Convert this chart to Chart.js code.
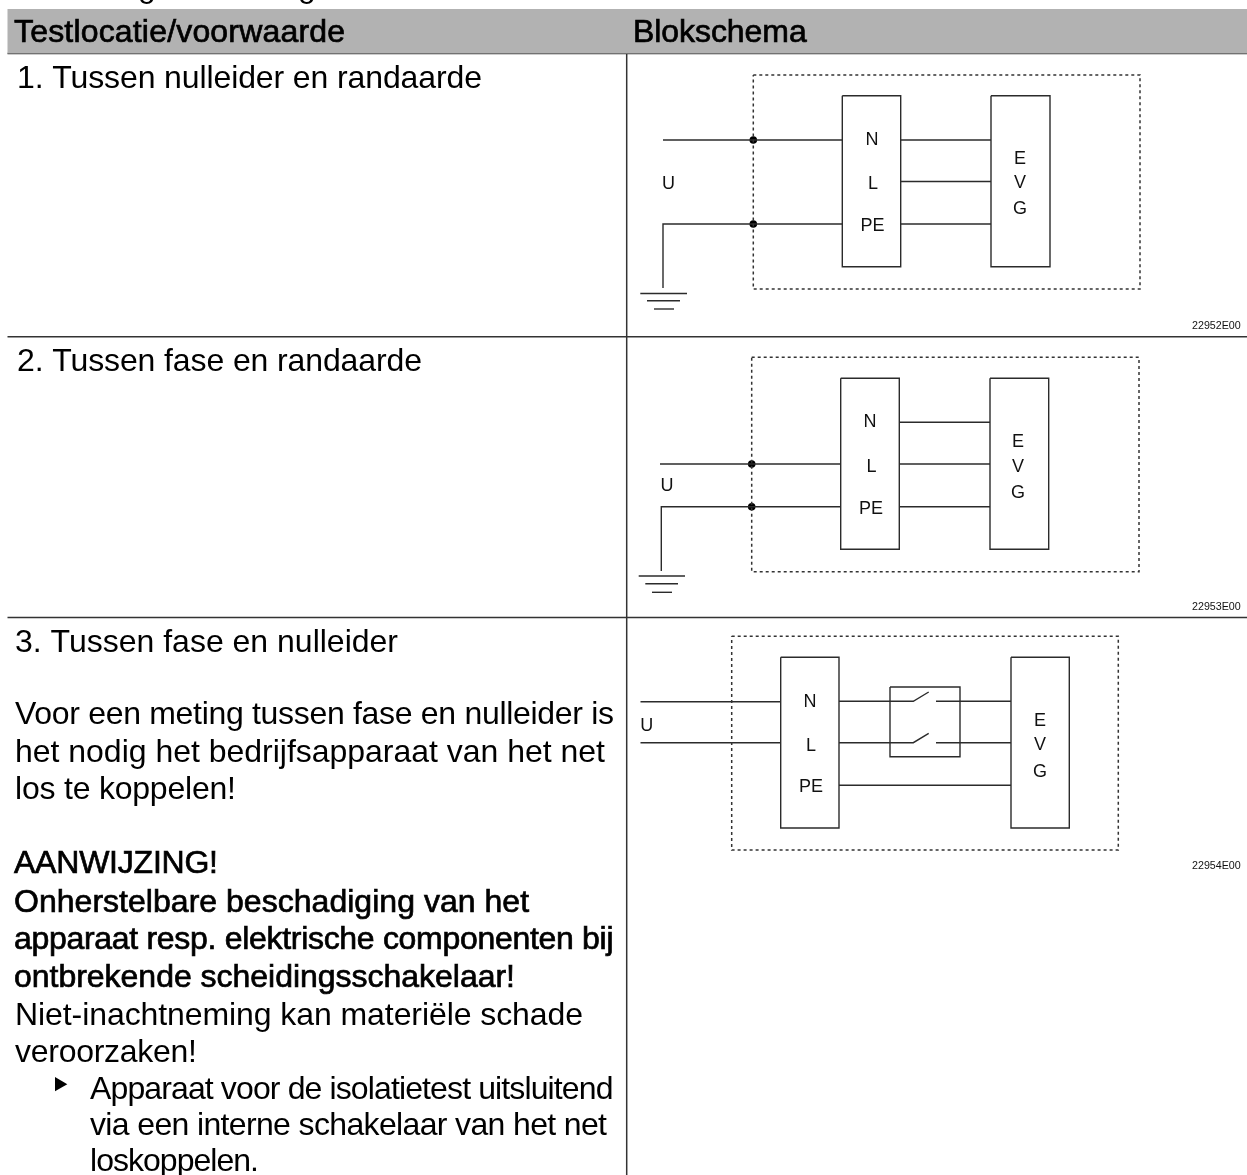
<!DOCTYPE html>
<html>
<head>
<meta charset="utf-8">
<title>Blokschema</title>
<script src="https://cdn.jsdelivr.net/npm/chart.js@4"></script>
<style>
  html, body { margin: 0; padding: 0; background: #fff; overflow: hidden; }
  canvas { display: block; }
</style>
</head>
<body>
<canvas id="schema" width="1247" height="1175"></canvas>
<script>
// table frame, [x1, y1, x2, y2]
const headerBand = [[7.5, 31.2], [1247, 31.2]];
const tableLines = [
  [7.5, 53.5, 1247, 53.5],
  [7.5, 336.7, 1247, 336.7],
  [7.5, 617.5, 1247, 617.5],
  [626.7, 9, 626.7, 1175]
];

// diagram wires as polylines [x, y]
const wires = [
  // 1
  [[663, 140], [842.3, 140]], [[900.7, 140], [991, 140]], [[900.7, 181.5], [991, 181.5]],
  [[663, 288], [663, 224], [842.3, 224]], [[900.7, 224], [991, 224]],
  [[640.3, 293.5], [687, 293.5]], [[647, 300.8], [680, 300.8]], [[654, 309], [674, 309]],
  [[842.3, 95.7], [900.7, 95.7], [900.7, 266.7], [842.3, 266.7], [842.3, 95.7]],
  [[991, 95.7], [1050, 95.7], [1050, 266.7], [991, 266.7], [991, 95.7]],
  // 2
  [[660, 464], [840.7, 464]], [[899.3, 422.3], [990, 422.3]], [[899.3, 464], [990, 464]],
  [[661.3, 571], [661.3, 506.7], [840.7, 506.7]], [[899.3, 506.7], [990, 506.7]],
  [[638.7, 576], [685, 576]], [[645.3, 583.7], [678, 583.7]], [[652, 592.3], [672, 592.3]],
  [[840.7, 378.3], [899.3, 378.3], [899.3, 549.3], [840.7, 549.3], [840.7, 378.3]],
  [[990, 378.3], [1048.7, 378.3], [1048.7, 549.3], [990, 549.3], [990, 378.3]],
  // 3
  [[640.5, 701.7], [780.7, 701.7]], [[640.5, 742.7], [780.7, 742.7]],
  [[839, 701.3], [913.3, 701.3], [928.7, 692]], [[936, 701.3], [1011, 701.3]],
  [[839, 742.7], [913.3, 742.7], [928.7, 733.3]], [[936, 742.7], [1011, 742.7]],
  [[839, 785.3], [1011, 785.3]],
  [[890, 687], [960, 687], [960, 756.7], [890, 756.7], [890, 687]],
  [[780.7, 657.3], [839, 657.3], [839, 828], [780.7, 828], [780.7, 657.3]],
  [[1011, 657.3], [1069.3, 657.3], [1069.3, 828], [1011, 828], [1011, 657.3]]
];

const dottedBoxes = [
  [[753.3, 75], [1140, 75], [1140, 289], [753.3, 289], [753.3, 75]],
  [[751.7, 357.3], [1139, 357.3], [1139, 571.7], [751.7, 571.7], [751.7, 357.3]],
  [[731.7, 636.3], [1118.3, 636.3], [1118.3, 850], [731.7, 850], [731.7, 636.3]]
];

const junctions = [[753.3, 140], [753.3, 224], [751.7, 464], [751.7, 506.7]];
const bullets = [[59.1, 1084.2]];

// diagram labels [text, x, y of the capital's middle]
const diagramLabels = [
  ['U', 668.5, 182], ['N', 872, 138.5], ['L', 873, 182], ['PE', 872.5, 224],
  ['E', 1020, 157.5], ['V', 1020, 181.5], ['G', 1020, 207],
  ['U', 667, 484], ['N', 870, 420.5], ['L', 871.5, 465], ['PE', 871, 507],
  ['E', 1018, 440], ['V', 1018, 465], ['G', 1018, 491],
  ['U', 646.7, 724.7], ['N', 810, 700], ['L', 811, 744], ['PE', 811, 785],
  ['E', 1040, 719], ['V', 1040, 743], ['G', 1040, 770]
];
const drawingCodes = [['22952E00', 1192, 329], ['22953E00', 1192, 610], ['22954E00', 1192, 869]];

// text lines [text, xStart, xEnd, baseline]
const boldLines = [
  ['Testlocatie/voorwaarde', 14, 345, 41.7],
  ['Blokschema', 633, 806.7, 41.7],
  ['AANWIJZING!', 14, 218, 873],
  ['Onherstelbare beschadiging van het', 14, 529, 911.5],
  ['apparaat resp. elektrische componenten bij', 14, 613.5, 949],
  ['ontbrekende scheidingsschakelaar!', 14, 515, 986.5]
];
const plainLines = [
  ['1. Tussen nulleider en randaarde', 17, 482, 88],
  ['2. Tussen fase en randaarde', 17, 422, 370.5],
  ['3. Tussen fase en nulleider', 15, 398, 652],
  ['Voor een meting tussen fase en nulleider is', 15, 614, 724],
  ['het nodig het bedrijfsapparaat van het net', 15, 605, 762],
  ['los te koppelen!', 15, 236, 799],
  ['Niet-inachtneming kan materiële schade', 15, 583, 1024.5],
  ['veroorzaken!', 15, 197, 1062],
  ['Apparaat voor de isolatietest uitsluitend', 90, 613.5, 1098.5],
  ['via een interne schakelaar van het net', 90, 607, 1134.5],
  ['loskoppelen.', 90, 259, 1170.5]
];
const cutOffLetters = [['g', 138, -3.5], ['g', 298, -3.5]];

const toPoints = line => line.map(p => ({ x: p[0], y: p[1] }));
const lineSet = (line, extra) => Object.assign({
  data: toPoints(line), showLine: true, pointRadius: 0, borderColor: '#2b2b2b', borderWidth: 1.4
}, extra);

const datasets = [
  lineSet(headerBand, { borderColor: '#b2b2b2', borderWidth: 44.5 }),
  ...tableLines.map(l => lineSet([[l[0], l[1]], [l[2], l[3]]], { borderColor: '#333', borderWidth: 1.5 })),
  ...dottedBoxes.map(b => lineSet(b, { borderColor: '#333', borderDash: [3, 3], borderWidth: 1.5 })),
  ...wires.map(w => lineSet(w)),
  { data: toPoints(junctions), pointRadius: 3.8, pointBackgroundColor: '#000', pointBorderWidth: 0 },
  { data: toPoints(bullets), pointStyle: 'triangle', rotation: 90, pointRadius: 8.2, pointBackgroundColor: '#000', pointBorderWidth: 0 }
];

// draws the text through the chart's scales
const textPlugin = {
  id: 'tableText',
  afterDatasetsDraw(chart) {
    const { ctx, scales: { x, y } } = chart;
    ctx.save();
    ctx.fillStyle = '#000';
    ctx.textBaseline = 'alphabetic';

    const fitted = (rows, bold) => {
      ctx.font = '32px "Liberation Sans"';
      ctx.textAlign = 'left';
      rows.forEach(([text, x1, x2, base]) => {
        ctx.letterSpacing = '0px';
        const spare = (x2 - x1) - ctx.measureText(text).width;
        ctx.letterSpacing = (spare / (text.length - 1)).toFixed(3) + 'px';
        ctx.fillText(text, x.getPixelForValue(x1), y.getPixelForValue(base));
        if (bold) {
          // the source has a doubled, heavy look here
          ctx.strokeStyle = '#000';
          ctx.lineWidth = 0.7;
          ctx.strokeText(text, x.getPixelForValue(x1), y.getPixelForValue(base));
        }
      });
      ctx.letterSpacing = '0px';
    };
    fitted(plainLines, false);
    fitted(boldLines, true);

    ctx.font = '32px "Liberation Sans"';
    cutOffLetters.forEach(([t, px, py]) => ctx.fillText(t, x.getPixelForValue(px), y.getPixelForValue(py)));

    ctx.font = '18px "Liberation Sans"';
    ctx.fillStyle = '#111';
    ctx.textAlign = 'center';
    // 6.5 is half the capital height at this size
    diagramLabels.forEach(([t, px, py]) => ctx.fillText(t, x.getPixelForValue(px), y.getPixelForValue(py) + 6.5));

    ctx.font = '10.7px "Liberation Sans"';
    ctx.textAlign = 'left';
    drawingCodes.forEach(([t, px, py]) => ctx.fillText(t, x.getPixelForValue(px), y.getPixelForValue(py)));
    ctx.restore();
  }
};

new Chart(document.getElementById('schema').getContext('2d'), {
  type: 'scatter',
  data: { datasets },
  plugins: [textPlugin],
  options: {
    responsive: false,
    animation: false,
    layout: { padding: 0, autoPadding: false },
    plugins: { legend: { display: false }, tooltip: { enabled: false } },
    scales: {
      x: { type: 'linear', min: 0, max: 1247, display: false },
      y: { type: 'linear', min: 0, max: 1175, reverse: true, display: false }
    }
  }
});
</script>
</body>
</html>
